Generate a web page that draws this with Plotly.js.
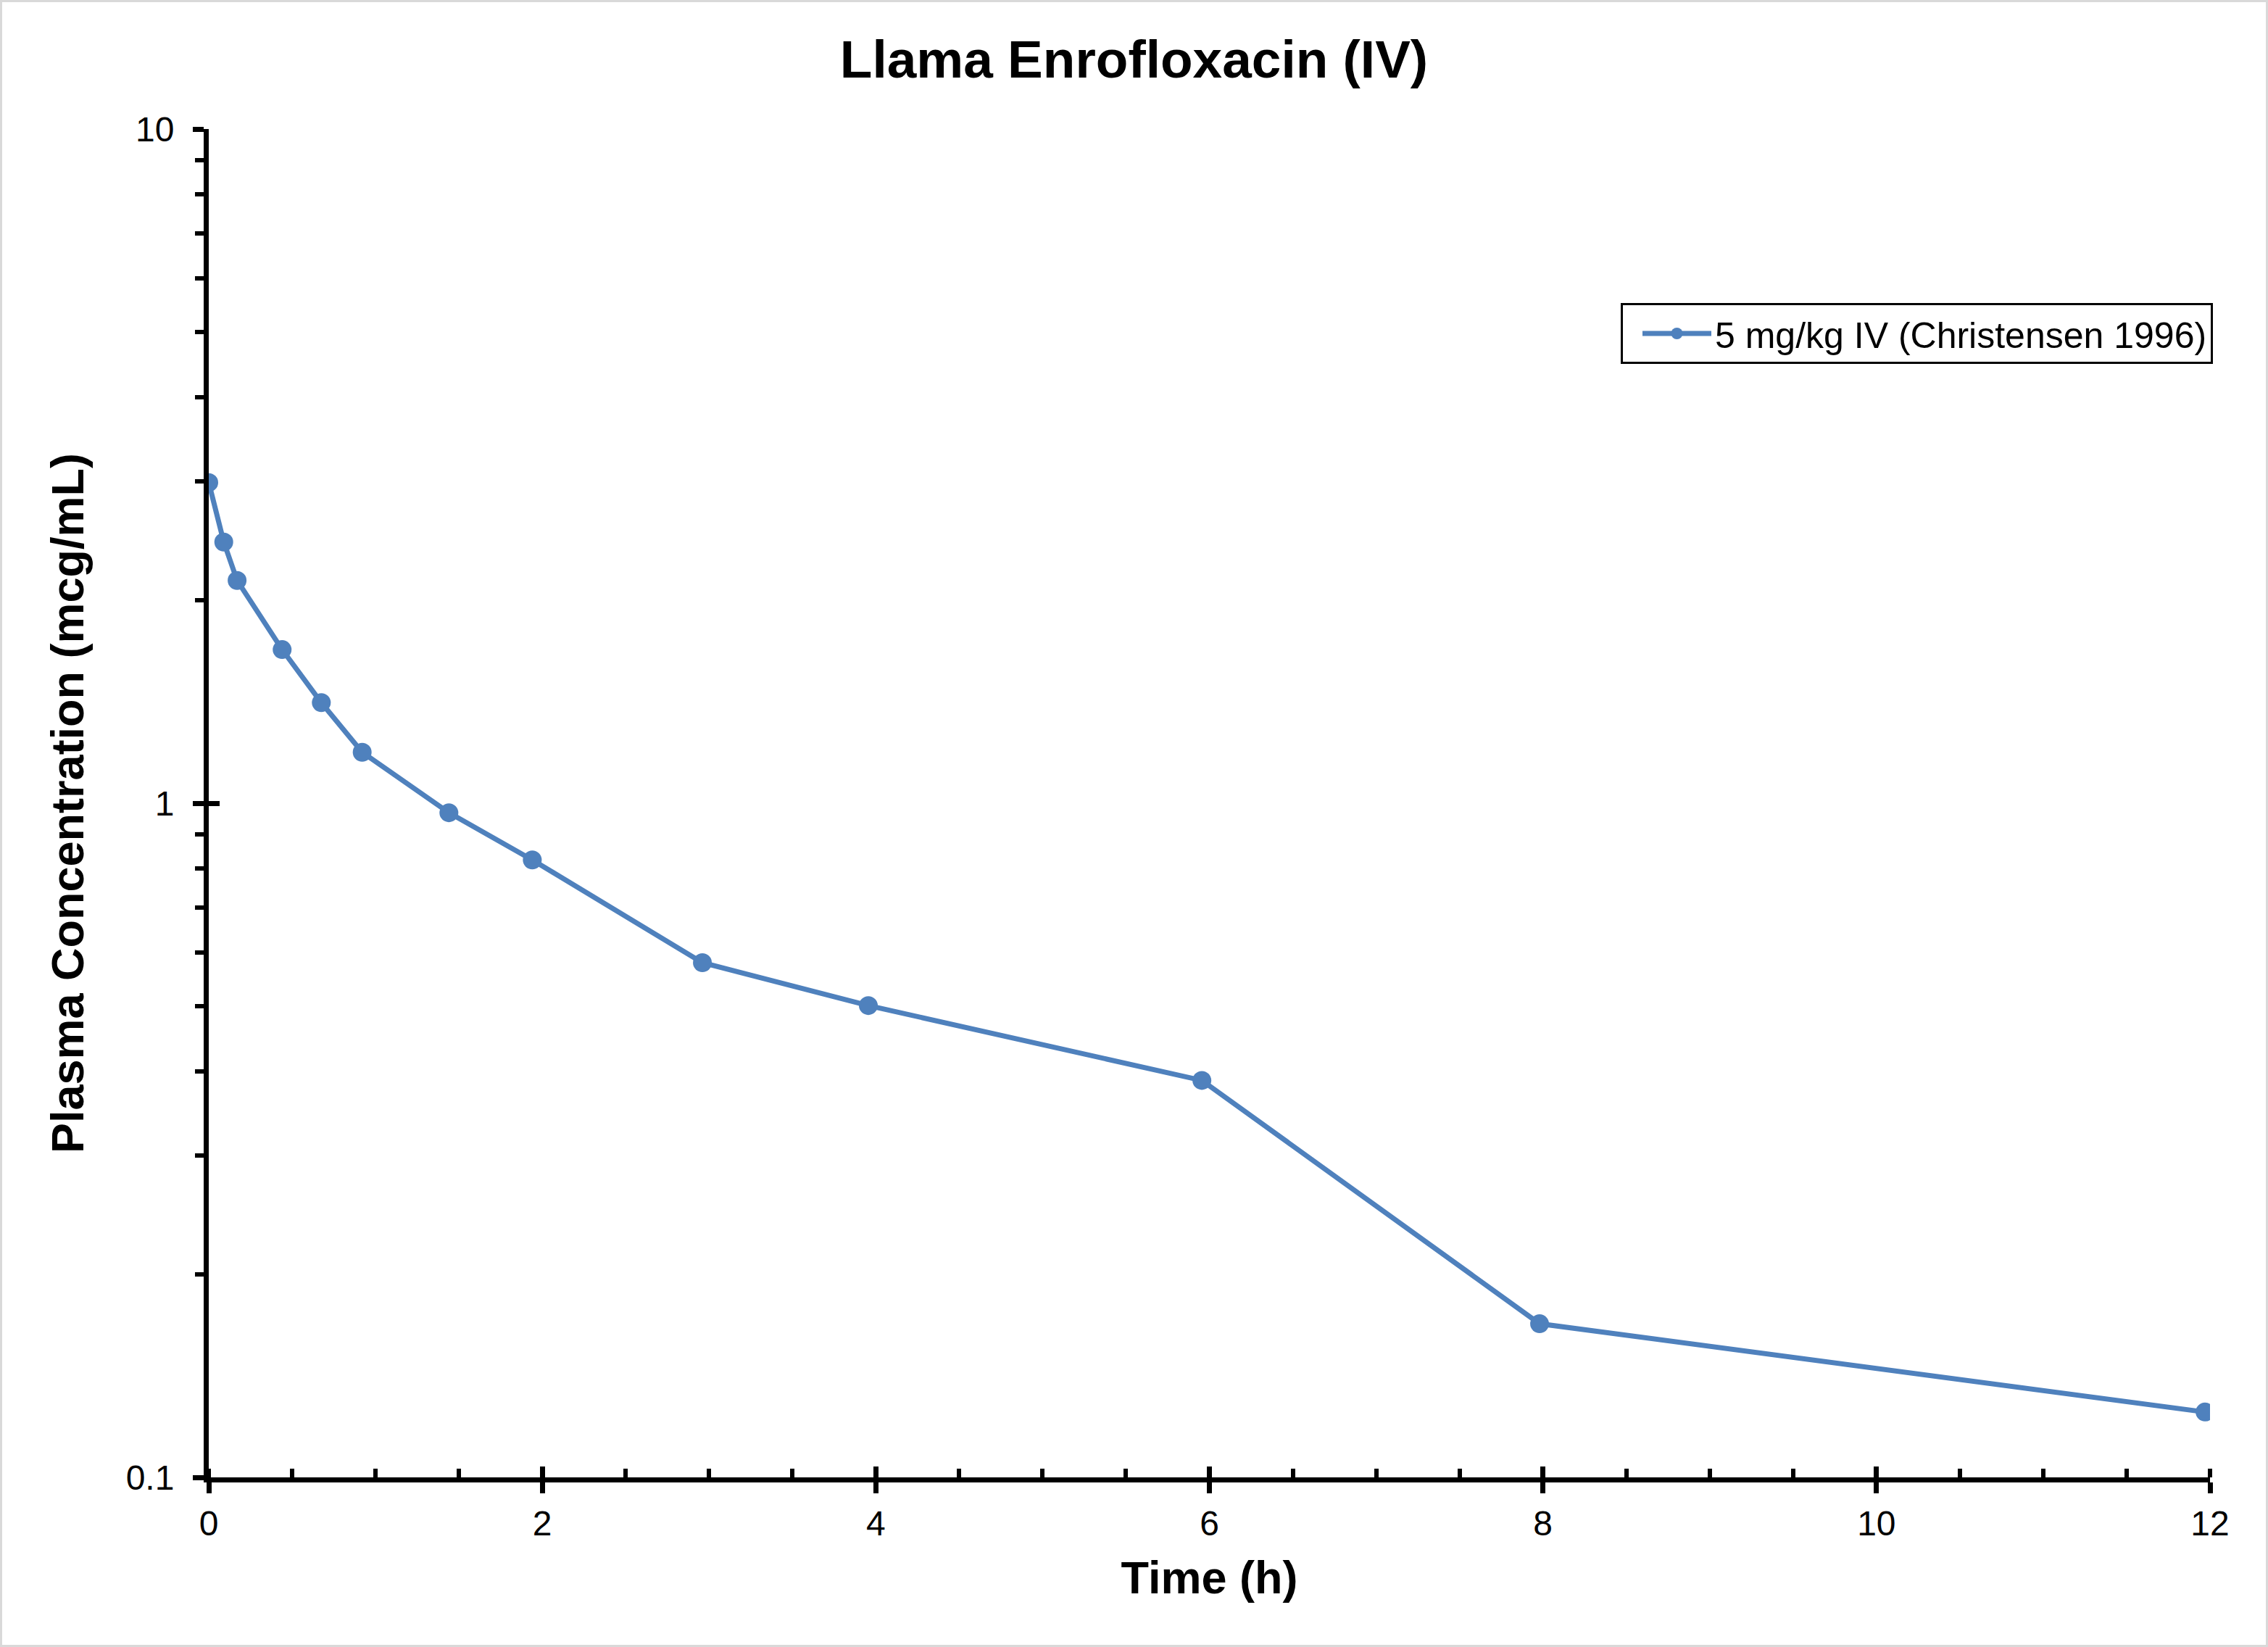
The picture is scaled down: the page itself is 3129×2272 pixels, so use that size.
<!DOCTYPE html>
<html>
<head>
<meta charset="utf-8">
<script src="https://cdn.plot.ly/plotly-3.0.1.min.js"></script>
<style>
  html, body { margin: 0; padding: 0; background: #ffffff; }
  #wrap { position: relative; width: 3129px; height: 2272px; }
  #chart { width: 3129px; height: 2272px; }
  #frame { position: absolute; left: 0; top: 0; width: 3129px; height: 2272px; box-sizing: border-box; border: 3px solid #d9d9d9; pointer-events: none; }
</style>
</head>
<body>
<div id="wrap"><div id="chart"></div><div id="frame"></div></div>
<script>
// Data
const seriesName = "5 mg/kg IV (Christensen 1996)";
const timeHours = [0, 0.09, 0.17, 0.44, 0.675, 0.92, 1.44, 1.94, 2.96, 3.955, 5.955, 7.98, 11.97];
const concentration = [2.99, 2.44, 2.14, 1.69, 1.41, 1.19, 0.968, 0.824, 0.580, 0.501, 0.388, 0.169, 0.125];
const xTickVals = [0, 2, 4, 6, 8, 10, 12];
const xTickText = ["0", "2", "4", "6", "8", "10", "12"];
const yTickVals = [0.1, 1, 10];
const yTickText = ["0.1", "1", "10"];

const FONT = "Liberation Sans, Arial, Helvetica, sans-serif";
const BLUE = "#4F81BD";

const traces = [
  {
    x: timeHours, y: concentration, name: seriesName,
    type: "scatter", mode: "lines+markers",
    line: { color: BLUE, width: 7 },
    marker: { color: BLUE, size: 26 },
    xaxis: "x", yaxis: "y"
  },
  {
    x: timeHours, y: concentration, name: "",
    type: "scatter", mode: "none", showlegend: false, hoverinfo: "skip",
    xaxis: "x2", yaxis: "y2"
  }
];

const layout = {
  width: 3129, height: 2272,
  paper_bgcolor: "#ffffff", plot_bgcolor: "#ffffff",
  margin: { l: 288, r: 80, t: 178, b: 234, pad: 0 },
  font: { family: FONT, color: "#000000", size: 48 },
  title: {
    text: "<b>Llama Enrofloxacin (IV)</b>",
    font: { family: FONT, size: 73, color: "#000000" },
    x: 0.5, xref: "container", xanchor: "center",
    y: 1 - 81 / 2272, yref: "container", yanchor: "middle"
  },
  xaxis: {
    range: [0, 12], type: "linear",
    tickmode: "array", tickvals: xTickVals, ticktext: xTickText,
    ticks: "outside", ticklen: 15, tickwidth: 7, tickcolor: "#000000",
    showline: true, linecolor: "#000000", linewidth: 7,
    showgrid: false, zeroline: false,
    tickfont: { family: FONT, size: 48, color: "#000000" },
    ticklabelstandoff: 0,
    minor: { tickmode: "linear", tick0: 0, dtick: 0.5, ticks: "inside", ticklen: 12, tickwidth: 6, tickcolor: "#000000", showgrid: false },
    title: { text: "<b>Time (h)</b>", font: { family: FONT, size: 63, color: "#000000" }, standoff: 30 },
    automargin: false, fixedrange: true
  },
  yaxis: {
    type: "log", range: [-1, 1],
    tickmode: "array", tickvals: yTickVals, ticktext: yTickText,
    ticks: "outside", ticklen: 15, tickwidth: 7, tickcolor: "#000000",
    showline: true, linecolor: "#000000", linewidth: 7,
    showgrid: false, zeroline: false,
    tickfont: { family: FONT, size: 48, color: "#000000" },
    ticklabelstandoff: 16,
    minor: { tickmode: "linear", dtick: "D1", ticks: "outside", ticklen: 12, tickwidth: 6, tickcolor: "#000000", showgrid: false },
    title: { text: "<b>Plasma Concentration (mcg/mL)</b>", font: { family: FONT, size: 63, color: "#000000" }, standoff: 40 },
    automargin: false, fixedrange: true
  },
  xaxis2: {
    overlaying: "x", anchor: "y", side: "bottom", range: [0, 12], type: "linear",
    tickmode: "array", tickvals: xTickVals, showticklabels: false,
    ticks: "inside", ticklen: 15, tickwidth: 7, tickcolor: "#000000",
    showline: false, showgrid: false, zeroline: false, fixedrange: true
  },
  yaxis2: {
    overlaying: "y", anchor: "x", side: "left", type: "log", range: [-1, 1],
    tickmode: "array", tickvals: yTickVals, showticklabels: false,
    ticks: "inside", ticklen: 15, tickwidth: 7, tickcolor: "#000000",
    showline: false, showgrid: false, zeroline: false, fixedrange: true
  },
  showlegend: true,
  legend: {
    x: (3053 - 288) / 2761, xanchor: "right", xref: "paper",
    y: (2038 - 418) / 1860, yanchor: "top", yref: "paper",
    bgcolor: "#ffffff", bordercolor: "#000000", borderwidth: 3,
    font: { family: FONT, size: 50, color: "#000000" },
    itemsizing: "trace", itemwidth: 95, indentation: 22
  }
};

Plotly.newPlot("chart", traces, layout, { displayModeBar: false, staticPlot: true });
</script>
</body>
</html>
